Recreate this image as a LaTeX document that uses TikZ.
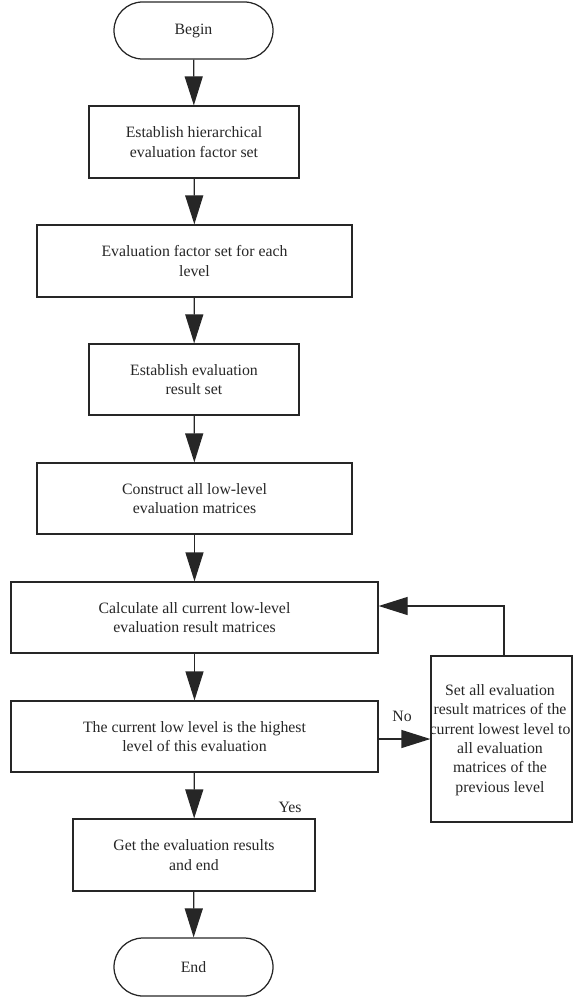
\documentclass[tikz,border=0pt]{standalone}
\usepackage{fontspec}
\setmainfont{Liberation Serif}
\usetikzlibrary{shapes.misc,arrows.meta}
\begin{document}
\begin{tikzpicture}[x=1pt,y=-1pt,
  every node/.style={font=\fontsize{15.8}{19.3}\selectfont, text=black!85},
  proc/.style={draw=black!85, line width=1.25pt, rectangle, align=center, inner sep=0pt},
  term/.style={draw=black!85, line width=1.25pt, rounded rectangle, align=center,
    minimum width=159pt, minimum height=57pt, inner sep=0pt},
  flow/.style={draw=black!85, line width=1.25pt,
    -{Triangle[length=29pt,width=18pt]}, color=black!85},
  lbl/.style={inner sep=0pt}]
\useasboundingbox (0,0) rectangle (573,998);

% main column
\node[term] (begin) at (193.5,30.5) {Begin};
\node[proc, minimum width=210pt, minimum height=72pt] (b1) at (194,142)
  {Establish hierarchical\\evaluation factor set};
\node[proc, minimum width=315pt, minimum height=72pt] (b2) at (194.5,261)
  {Evaluation factor set for each\\level};
\node[proc, minimum width=210pt, minimum height=71pt] (b3) at (194,379.5)
  {Establish evaluation\\result set};
\node[proc, minimum width=315pt, minimum height=71pt] (b4) at (194.5,498.5)
  {Construct all low-level\\evaluation matrices};
\node[proc, minimum width=367pt, minimum height=71pt] (b5) at (194.5,617.5)
  {Calculate all current low-level\\evaluation result matrices};
\node[proc, minimum width=367pt, minimum height=71pt] (b6) at (194.5,736.5)
  {The current low level is the highest\\level of this evaluation};
\node[proc, minimum width=242pt, minimum height=72pt] (b7) at (194,855)
  {Get the evaluation results\\and end};
\node[term, minimum height=58pt] (end) at (193.5,967) {End};

% side step of the loop: fixed frame, its wording set slightly wider
\node[proc, minimum width=141pt, minimum height=166pt] (side) at (501.5,739) {};
\node[lbl, align=center] (sidetext) at (500,740)
  {Set all evaluation\\result matrices of the\\current lowest level to\\all evaluation\\matrices of the\\previous level};

% connectors
\draw[flow] (begin) -- (b1);
\draw[flow] (b1) -- (b2);
\draw[flow] (b2) -- (b3);
\draw[flow] (b3) -- (b4);
\draw[flow] (b4) -- (b5);
\draw[flow] (b5) -- (b6);
\draw[flow] (b6) -- (b7);
\draw[flow] (b7) -- (end);
\draw[flow] ([yshift=-2.5pt]b6.east) -- ([yshift=-2.5pt]b6.east -| side.west);
\draw[flow] ([xshift=2.5pt]side.north) |- ([yshift=11.5pt]b5.east);

% branch labels
\node[lbl] (no) at (402,716) {No};
\node[lbl] (yes) at (290,807) {Yes};
\end{tikzpicture}
\end{document}
